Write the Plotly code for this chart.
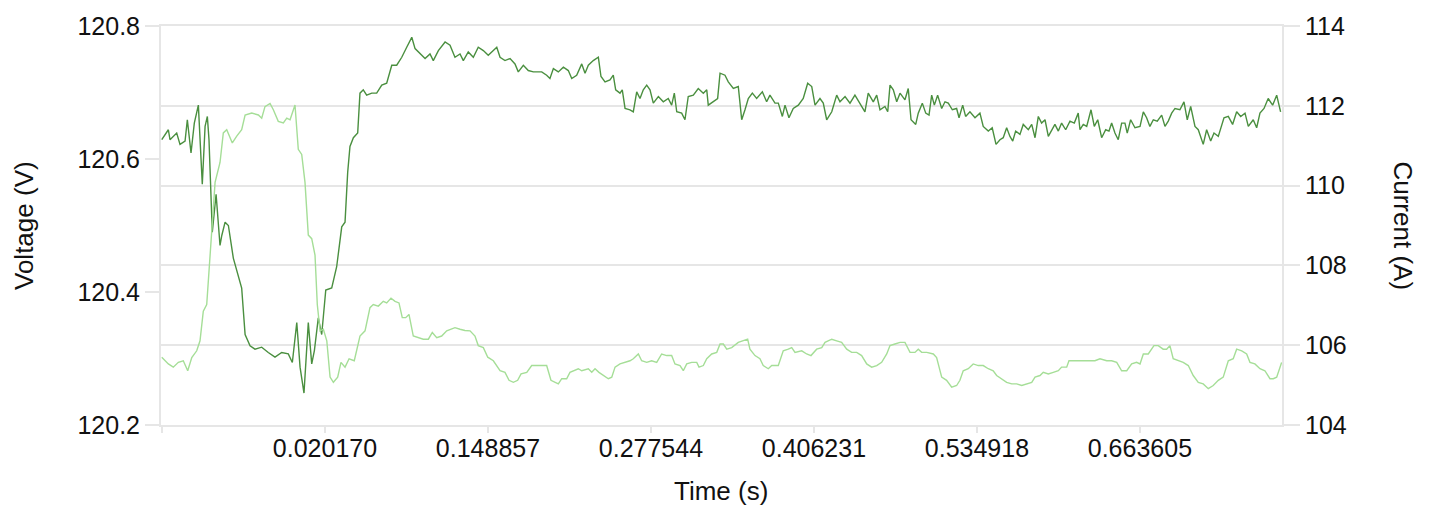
import plotly.graph_objects as go

# ---- data ----
t_voltage = [-0.1087, -0.1035, -0.1022, -0.0969, -0.0943, -0.0903, -0.0885, -0.0856, -0.0830, -0.0798,
             -0.0767, -0.0745, -0.0727, -0.0714, -0.0688, -0.0658, -0.0627, -0.0613, -0.0587, -0.0561,
             -0.0522, -0.0482, -0.0456, -0.0429, -0.0390, -0.0351, -0.0298, -0.0246, -0.0193, -0.0140,
             -0.0088, -0.0056, -0.0021, 0.0005, 0.0036, 0.0070, 0.0097, 0.0118, 0.0149, 0.0176,
             0.0208, 0.0255, 0.0294, 0.0334, 0.0360, 0.0381, 0.0399, 0.0426, 0.0460, 0.0478,
             0.0504, 0.0531, 0.0571, 0.0610, 0.0650, 0.0689, 0.0729, 0.0768, 0.0808, 0.0847,
             0.0887, 0.0913, 0.0952, 0.0992, 0.1031, 0.1057, 0.1097, 0.1150, 0.1189, 0.1228,
             0.1268, 0.1294, 0.1333, 0.1373, 0.1412, 0.1452, 0.1491, 0.1531, 0.1558, 0.1584,
             0.1623, 0.1663, 0.1702, 0.1728, 0.1768, 0.1807, 0.1847, 0.1886, 0.1913, 0.1952,
             0.1978, 0.2005, 0.2044, 0.2084, 0.2123, 0.2150, 0.2189, 0.2229, 0.2255, 0.2281,
             0.2320, 0.2360, 0.2381, 0.2413, 0.2452, 0.2478, 0.2497, 0.2531, 0.2549, 0.2571,
             0.2610, 0.2636, 0.2663, 0.2689, 0.2715, 0.2742, 0.2768, 0.2794, 0.2834, 0.2873,
             0.2912, 0.2939, 0.2960, 0.2979, 0.3018, 0.3044, 0.3070, 0.3110, 0.3149, 0.3189,
             0.3216, 0.3228, 0.3268, 0.3302, 0.3321, 0.3360, 0.3386, 0.3426, 0.3465, 0.3492,
             0.3518, 0.3544, 0.3576, 0.3610, 0.3655, 0.3689, 0.3715, 0.3755, 0.3781, 0.3813,
             0.3834, 0.3865, 0.3899, 0.3939, 0.3978, 0.4013, 0.4045, 0.4071, 0.4110, 0.4136,
             0.4163, 0.4203, 0.4242, 0.4268, 0.4308, 0.4347, 0.4386, 0.4426, 0.4465, 0.4491,
             0.4531, 0.4558, 0.4584, 0.4623, 0.4645, 0.4663, 0.4689, 0.4716, 0.4742, 0.4781,
             0.4807, 0.4829, 0.4866, 0.4886, 0.4918, 0.4945, 0.4971, 0.4992, 0.5013, 0.5039,
             0.5071, 0.5097, 0.5123, 0.5155, 0.5189, 0.5208, 0.5237, 0.5260, 0.5294, 0.5334,
             0.5373, 0.5399, 0.5439, 0.5470, 0.5500, 0.5531, 0.5557, 0.5584, 0.5610, 0.5632,
             0.5655, 0.5689, 0.5715, 0.5755, 0.5782, 0.5808, 0.5834, 0.5860, 0.5887, 0.5913,
             0.5939, 0.5965, 0.5992, 0.6018, 0.6050, 0.6084, 0.6118, 0.6149, 0.6163, 0.6189,
             0.6216, 0.6250, 0.6276, 0.6303, 0.6334, 0.6366, 0.6392, 0.6413, 0.6439, 0.6465,
             0.6492, 0.6518, 0.6536, 0.6563, 0.6597, 0.6637, 0.6663, 0.6689, 0.6715, 0.6742,
             0.6773, 0.6808, 0.6834, 0.6860, 0.6887, 0.6913, 0.6952, 0.6984, 0.7010, 0.7037,
             0.7071, 0.7097, 0.7136, 0.7163, 0.7195, 0.7221, 0.7255, 0.7300, 0.7334, 0.7368,
             0.7400, 0.7432, 0.7466, 0.7492, 0.7531, 0.7558, 0.7584, 0.7616, 0.7649, 0.7684,
             0.7716, 0.7747]
voltage = [120.629, 120.644, 120.629, 120.639, 120.622, 120.627, 120.659, 120.609, 120.654, 120.681,
           120.562, 120.649, 120.664, 120.629, 120.490, 120.547, 120.470, 120.485, 120.505, 120.500,
           120.451, 120.426, 120.406, 120.336, 120.319, 120.314, 120.317, 120.309, 120.302, 120.309,
           120.307, 120.294, 120.354, 120.287, 120.248, 120.354, 120.292, 120.312, 120.361, 120.336,
           120.403, 120.406, 120.438, 120.498, 120.505, 120.580, 120.619, 120.632, 120.639, 120.699,
           120.704, 120.696, 120.699, 120.699, 120.711, 120.714, 120.741, 120.741, 120.753, 120.768,
           120.783, 120.766, 120.758, 120.751, 120.758, 120.748, 120.763, 120.776, 120.771, 120.753,
           120.758, 120.748, 120.761, 120.753, 120.768, 120.763, 120.756, 120.763, 120.768, 120.753,
           120.748, 120.751, 120.743, 120.731, 120.741, 120.733, 120.731, 120.731, 120.731, 120.726,
           120.721, 120.736, 120.731, 120.738, 120.733, 120.721, 120.726, 120.743, 120.729, 120.741,
           120.748, 120.753, 120.724, 120.716, 120.719, 120.726, 120.704, 120.699, 120.704, 120.676,
           120.674, 120.671, 120.701, 120.691, 120.704, 120.711, 120.704, 120.684, 120.694, 120.686,
           120.691, 120.681, 120.699, 120.671, 120.669, 120.659, 120.694, 120.696, 120.706, 120.699,
           120.704, 120.681, 120.686, 120.691, 120.729, 120.726, 120.716, 120.706, 120.709, 120.659,
           120.674, 120.691, 120.699, 120.691, 120.701, 120.686, 120.696, 120.684, 120.684, 120.664,
           120.681, 120.662, 120.676, 120.681, 120.691, 120.714, 120.709, 120.681, 120.691, 120.684,
           120.659, 120.671, 120.696, 120.686, 120.694, 120.684, 120.696, 120.684, 120.671, 120.699,
           120.686, 120.696, 120.674, 120.679, 120.671, 120.711, 120.704, 120.686, 120.699, 120.689,
           120.706, 120.659, 120.652, 120.669, 120.684, 120.669, 120.666, 120.696, 120.681, 120.696,
           120.676, 120.686, 120.684, 120.674, 120.676, 120.662, 120.681, 120.664, 120.671, 120.662,
           120.669, 120.649, 120.642, 120.647, 120.622, 120.629, 120.632, 120.647, 120.634, 120.627,
           120.642, 120.637, 120.652, 120.644, 120.652, 120.632, 120.664, 120.654, 120.659, 120.634,
           120.644, 120.652, 120.642, 120.654, 120.644, 120.657, 120.654, 120.669, 120.644, 120.652,
           120.649, 120.674, 120.649, 120.659, 120.632, 120.644, 120.642, 120.654, 120.639, 120.629,
           120.654, 120.654, 120.639, 120.659, 120.647, 120.649, 120.671, 120.662, 120.649, 120.659,
           120.657, 120.666, 120.649, 120.657, 120.669, 120.676, 120.674, 120.686, 120.659, 120.679,
           120.649, 120.644, 120.622, 120.644, 120.627, 120.639, 120.634, 120.662, 120.664, 120.652,
           120.671, 120.664, 120.669, 120.649, 120.659, 120.647, 120.669, 120.676, 120.691, 120.681,
           120.696, 120.671]

t_current = [-0.1087, -0.1035, -0.0996, -0.0956, -0.0917, -0.0882, -0.0850, -0.0811, -0.0785, -0.0759,
             -0.0732, -0.0706, -0.0666, -0.0627, -0.0601, -0.0574, -0.0548, -0.0530, -0.0495, -0.0456,
             -0.0429, -0.0377, -0.0324, -0.0298, -0.0272, -0.0232, -0.0206, -0.0167, -0.0127, -0.0100,
             -0.0074, -0.0056, -0.0035, -0.0009, 0.0018, 0.0044, 0.0070, 0.0097, 0.0123, 0.0141,
             0.0163, 0.0189, 0.0216, 0.0242, 0.0268, 0.0302, 0.0328, 0.0360, 0.0392, 0.0433,
             0.0478, 0.0518, 0.0557, 0.0583, 0.0623, 0.0662, 0.0689, 0.0723, 0.0755, 0.0786,
             0.0812, 0.0839, 0.0865, 0.0899, 0.0939, 0.0978, 0.1018, 0.1049, 0.1084, 0.1123,
             0.1163, 0.1202, 0.1228, 0.1268, 0.1307, 0.1347, 0.1386, 0.1412, 0.1452, 0.1487,
             0.1531, 0.1584, 0.1623, 0.1655, 0.1689, 0.1723, 0.1750, 0.1795, 0.1834, 0.1886,
             0.1952, 0.1986, 0.2018, 0.2044, 0.2071, 0.2110, 0.2136, 0.2162, 0.2202, 0.2229,
             0.2281, 0.2308, 0.2334, 0.2365, 0.2399, 0.2439, 0.2466, 0.2492, 0.2531, 0.2571,
             0.2610, 0.2636, 0.2676, 0.2702, 0.2742, 0.2781, 0.2821, 0.2860, 0.2900, 0.2939,
             0.2965, 0.3005, 0.3031, 0.3058, 0.3097, 0.3137, 0.3155, 0.3189, 0.3216, 0.3255,
             0.3295, 0.3321, 0.3347, 0.3374, 0.3413, 0.3465, 0.3505, 0.3539, 0.3557, 0.3597,
             0.3636, 0.3662, 0.3702, 0.3729, 0.3781, 0.3820, 0.3860, 0.3887, 0.3913, 0.3966,
             0.4005, 0.4039, 0.4084, 0.4124, 0.4150, 0.4203, 0.4242, 0.4281, 0.4321, 0.4360,
             0.4400, 0.4439, 0.4479, 0.4518, 0.4558, 0.4597, 0.4637, 0.4663, 0.4702, 0.4742,
             0.4781, 0.4821, 0.4860, 0.4886, 0.4913, 0.4953, 0.5005, 0.5031, 0.5071, 0.5110,
             0.5150, 0.5189, 0.5215, 0.5241, 0.5281, 0.5320, 0.5360, 0.5399, 0.5439, 0.5478,
             0.5505, 0.5545, 0.5584, 0.5624, 0.5663, 0.5703, 0.5742, 0.5782, 0.5808, 0.5847,
             0.5873, 0.5913, 0.5952, 0.5992, 0.6018, 0.6058, 0.6076, 0.6110, 0.6149, 0.6189,
             0.6228, 0.6281, 0.6321, 0.6374, 0.6413, 0.6453, 0.6492, 0.6532, 0.6571, 0.6610,
             0.6637, 0.6663, 0.6702, 0.6729, 0.6747, 0.6781, 0.6820, 0.6847, 0.6873, 0.6899,
             0.6939, 0.6978, 0.7018, 0.7057, 0.7097, 0.7136, 0.7176, 0.7215, 0.7255, 0.7294,
             0.7334, 0.7373, 0.7400, 0.7440, 0.7479, 0.7505, 0.7544, 0.7584, 0.7623, 0.7663,
             0.7689, 0.7716, 0.7755]
current = [105.70, 105.53, 105.45, 105.57, 105.61, 105.36, 105.69, 105.86, 106.11, 106.85,
           107.02, 108.26, 110.08, 110.58, 111.32, 111.40, 111.20, 111.07, 111.24, 111.40,
           111.77, 111.82, 111.77, 111.69, 111.98, 112.06, 111.90, 111.61, 111.57, 111.69,
           111.65, 111.82, 112.02, 110.91, 110.78, 110.08, 108.76, 108.67, 108.26, 107.02,
           106.36, 106.40, 106.11, 105.20, 105.07, 105.20, 105.57, 105.45, 105.66, 105.61,
           106.23, 106.36, 106.94, 107.02, 106.98, 107.10, 107.06, 107.18, 107.10, 107.06,
           106.69, 106.69, 106.77, 106.23, 106.19, 106.15, 106.15, 106.32, 106.19, 106.23,
           106.36, 106.40, 106.44, 106.40, 106.37, 106.36, 106.23, 105.99, 105.94, 105.70,
           105.61, 105.36, 105.32, 105.12, 105.07, 105.12, 105.28, 105.32, 105.49, 105.49,
           105.49, 105.12, 105.07, 105.03, 105.16, 105.16, 105.32, 105.36, 105.41, 105.36,
           105.41, 105.32, 105.41, 105.32, 105.24, 105.16, 105.20, 105.45, 105.53, 105.57,
           105.61, 105.66, 105.78, 105.61, 105.57, 105.61, 105.57, 105.78, 105.74, 105.74,
           105.53, 105.49, 105.36, 105.53, 105.57, 105.57, 105.45, 105.49, 105.66, 105.78,
           105.82, 106.03, 106.03, 105.90, 105.94, 106.07, 106.11, 106.15, 105.90, 105.74,
           105.66, 105.49, 105.41, 105.49, 105.49, 105.86, 105.90, 105.94, 105.82, 105.86,
           105.78, 105.74, 105.90, 105.94, 106.07, 106.15, 106.11, 106.07, 105.90, 105.82,
           105.82, 105.74, 105.53, 105.45, 105.49, 105.57, 105.78, 105.99, 106.03, 106.07,
           106.07, 105.82, 105.82, 105.90, 105.82, 105.82, 105.78, 105.69, 105.20, 105.12,
           104.95, 104.99, 105.12, 105.36, 105.41, 105.53, 105.49, 105.49, 105.41, 105.36,
           105.24, 105.16, 105.07, 105.03, 105.03, 104.99, 105.03, 105.07, 105.20, 105.24,
           105.32, 105.28, 105.32, 105.36, 105.45, 105.45, 105.61, 105.61, 105.61, 105.61,
           105.61, 105.61, 105.66, 105.61, 105.61, 105.57, 105.36, 105.36, 105.53, 105.57,
           105.53, 105.78, 105.78, 105.90, 105.99, 105.99, 105.90, 105.90, 105.99, 105.66,
           105.61, 105.57, 105.49, 105.24, 105.07, 105.03, 104.91, 104.99, 105.12, 105.20,
           105.61, 105.66, 105.90, 105.86, 105.78, 105.57, 105.53, 105.41, 105.36, 105.16,
           105.16, 105.20, 105.57]

x_tick_values = [-0.108517, 0.020170, 0.148857, 0.277544, 0.406231, 0.534918, 0.663605]
x_tick_labels = ["", "0.020170", "0.148857", "0.277544", "0.406231", "0.534918", "0.663605"]
voltage_ticks = [120.2, 120.4, 120.6, 120.8]
current_ticks = [104, 106, 108, 110, 112, 114]

# ---- style ----
FONT = "Liberation Sans, Arial, sans-serif"
GRID = "#e6e6e6"
DARK = "#4a8f3f"
LIGHT = "#a5de97"
TICK_FONT = dict(family=FONT, size=25, color="#111111")
TITLE_FONT = dict(family=FONT, size=26, color="#111111")

fig = go.Figure()
fig.add_trace(go.Scatter(x=t_current, y=current, mode="lines", yaxis="y2",
                         line=dict(color=LIGHT, width=1.4), name="Current", hoverinfo="skip"))
fig.add_trace(go.Scatter(x=t_voltage, y=voltage, mode="lines", yaxis="y",
                         line=dict(color=DARK, width=1.4), name="Voltage", hoverinfo="skip"))

fig.update_layout(
    width=1435, height=509,
    margin=dict(l=161, r=153, t=22, b=84),
    paper_bgcolor="white", plot_bgcolor="white",
    showlegend=False,
    xaxis=dict(range=[-0.1093, 0.7758], tickvals=x_tick_values, ticktext=x_tick_labels,
               ticks="outside", ticklen=6, tickwidth=2, tickcolor=GRID, ticklabelstandoff=-6,
               showgrid=False, zeroline=False, showline=True, mirror=True,
               linecolor=GRID, linewidth=2, tickfont=TICK_FONT),
    yaxis=dict(range=[120.2, 120.8], tickvals=voltage_ticks, ticktext=[f"{v:.1f}" for v in voltage_ticks],
               ticks="outside", ticklen=14, tickwidth=2, tickcolor=GRID,
               showgrid=False, zeroline=False, showline=True, linecolor=GRID, linewidth=2,
               tickfont=TICK_FONT),
    yaxis2=dict(range=[104, 114], tickvals=current_ticks, overlaying="y", side="right",
                ticks="outside", ticklen=16, tickwidth=2, tickcolor=GRID,
                showgrid=True, gridcolor=GRID, gridwidth=2, zeroline=False,
                showline=True, linecolor=GRID, linewidth=2, tickfont=TICK_FONT),
    annotations=[
        dict(text="Voltage (V)", xref="paper", yref="paper", x=-0.1222, y=0.4988,
             textangle=-90, showarrow=False, xanchor="center", yanchor="middle", font=TITLE_FONT),
        dict(text="Current (A)", xref="paper", yref="paper", x=1.1084, y=0.4988,
             textangle=90, showarrow=False, xanchor="center", yanchor="middle", font=TITLE_FONT),
        dict(text="Time (s)", xref="paper", yref="paper", x=0.4996, y=-0.1663,
             showarrow=False, xanchor="center", yanchor="middle", font=TITLE_FONT),
    ],
)

fig.write_html("out.html",
               config={"displayModeBar": False},
               post_script="document.body.style.margin='0';document.body.style.padding='0';"
                           "document.documentElement.style.overflow='hidden';")
